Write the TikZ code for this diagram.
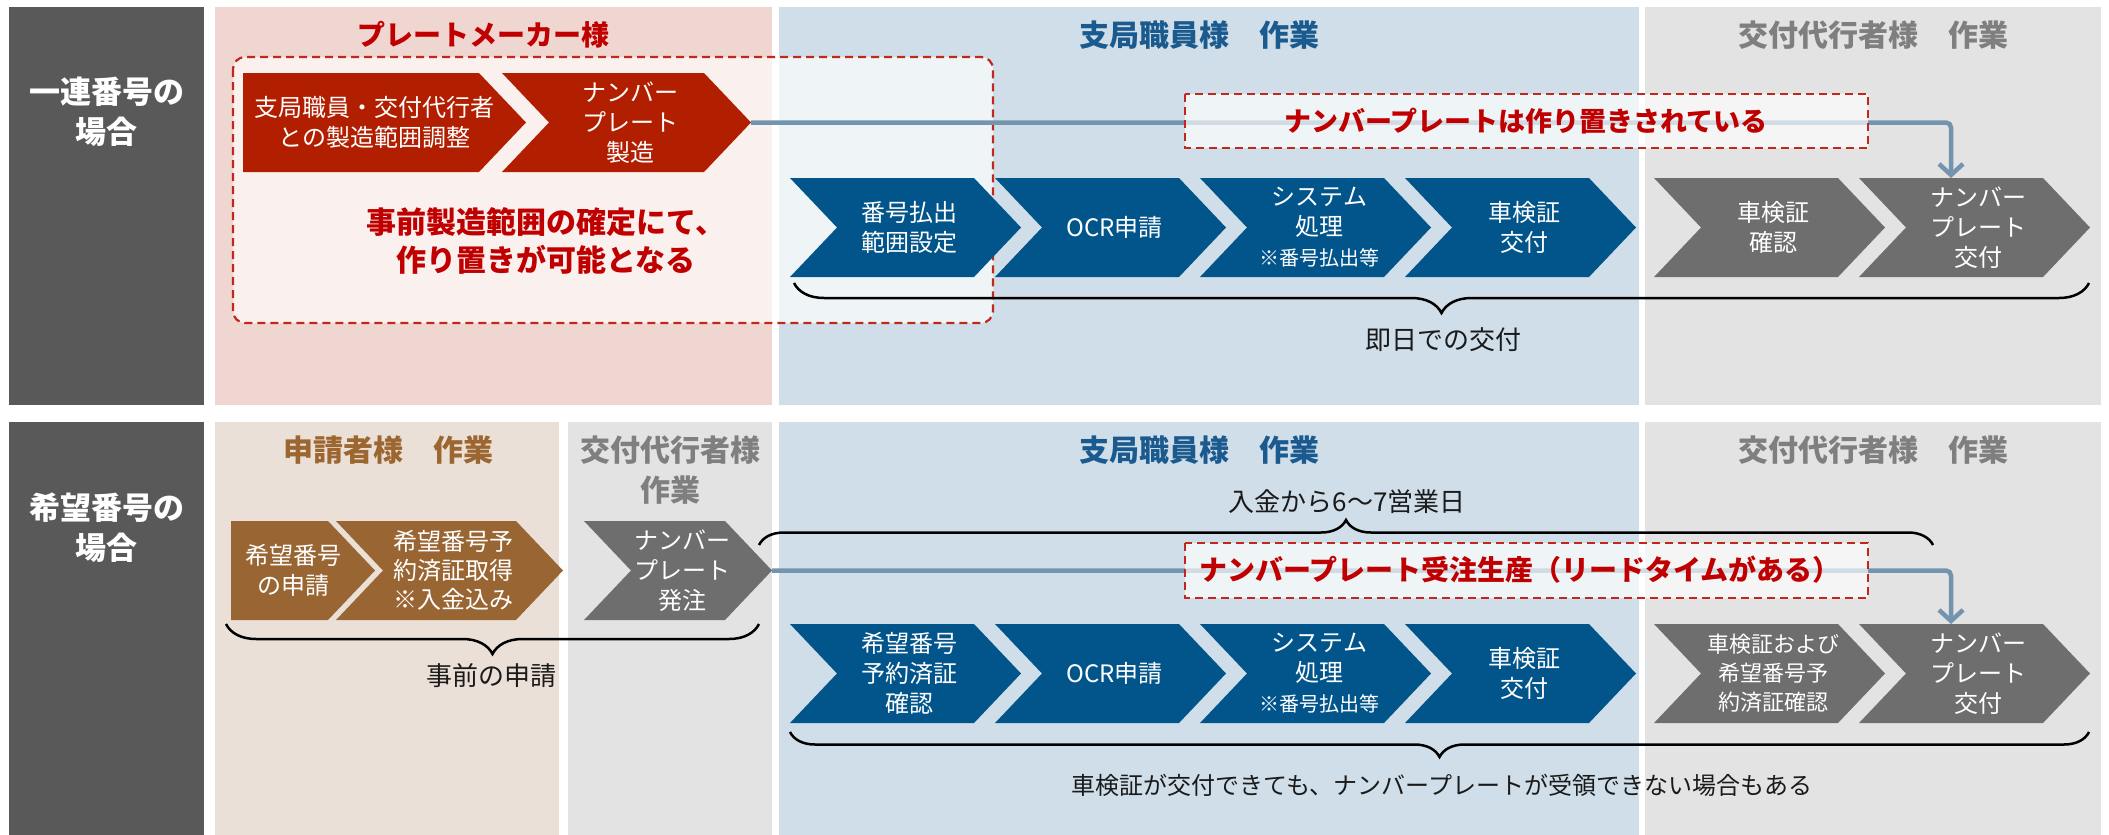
\documentclass[tikz,border=0pt]{standalone}
\usepackage{fontspec}
\newfontfamily\jp{Noto Sans CJK JP}
\usetikzlibrary{arrows.meta,decorations.pathreplacing}
\definecolor{darklbl}{HTML}{595959}
\definecolor{pinkbg}{HTML}{F0D6D0}
\definecolor{bluebg}{HTML}{CFDEE8}
\definecolor{graybg}{HTML}{E3E3E3}
\definecolor{brownbg}{HTML}{EBE0D7}
\definecolor{redch}{HTML}{B21F00}
\definecolor{bluech}{HTML}{02558B}
\definecolor{graych}{HTML}{6E6E6E}
\definecolor{brownch}{HTML}{996633}
\definecolor{redtxt}{HTML}{C00000}
\definecolor{bluehd}{HTML}{1A5A8E}
\definecolor{grayhd}{HTML}{7F7F7F}
\definecolor{brownhd}{HTML}{9C6630}
\definecolor{steel}{HTML}{7394AF}
\definecolor{dashred}{HTML}{C0281B}
\definecolor{txtblack}{HTML}{1A1A1A}
% notched chevron: left x, top y, total width, colour, name
\newcommand{\chevN}[5]{%
  \fill[#4] (#1,#2) -- ({#1+#3-47},#2) -- ({#1+#3},{#2+49.5}) -- ({#1+#3-47},{#2+99}) -- (#1,{#2+99}) -- ({#1+47},{#2+49.5}) -- cycle;
  \coordinate (#5) at ({#1+#3/2+4},{#2+49.5});
  \coordinate (#5-tip) at ({#1+#3},{#2+49.5});
  \coordinate (#5-top) at ({#1+92},#2);
}
% flat-left chevron
\newcommand{\chevF}[5]{%
  \fill[#4] (#1,#2) -- ({#1+#3-47},#2) -- ({#1+#3},{#2+49.5}) -- ({#1+#3-47},{#2+99}) -- (#1,{#2+99}) -- cycle;
  \coordinate (#5) at ({#1+#3/2-10},{#2+49.5});
  \coordinate (#5-tip) at ({#1+#3},{#2+49.5});
}
\begin{document}
\begin{tikzpicture}[x=1pt,y=-1pt,
  chtext/.style={font=\jp\fontsize{24}{30}\selectfont, text=white, align=center, inner sep=0pt},
  hdr/.style={font=\jp\bfseries\fontsize{30}{40}\selectfont, align=center, inner sep=0pt},
  sidelbl/.style={font=\jp\bfseries\fontsize{31}{40}\selectfont, text=white, align=center, inner sep=0pt},
  note/.style={font=\jp\fontsize{26}{32}\selectfont, text=txtblack, inner sep=0pt},
  redbold/.style={font=\jp\bfseries\fontsize{27}{36}\selectfont, text=redtxt, inner sep=0pt},
  dashbox/.style={draw=dashred, line width=2.2pt, dash pattern=on 8pt off 5pt, fill=white, fill opacity=0.67},
  flow/.style={draw=steel, line width=4.5pt, rounded corners=5pt, -{Straight Barb[length=11pt,width=24pt]}},
  bracestyle/.style={draw=black, line width=2.5pt, decorate}
]
\useasboundingbox (0,0) rectangle (2109,835);
% ---------- panels ----------
\fill[darklbl] (9,7) rectangle (204,405);
\fill[pinkbg] (215,7) rectangle (772,405);
\fill[bluebg] (779,7) rectangle (1639,405);
\fill[graybg] (1645,7) rectangle (2101,405);
\fill[darklbl] (9,422) rectangle (204,835);
\fill[brownbg] (215,422) rectangle (559,835);
\fill[graybg] (568,422) rectangle (772,835);
\fill[bluebg] (779,422) rectangle (1639,835);
\fill[graybg] (1645,422) rectangle (2101,835);
% ---------- side labels ----------
\node[sidelbl] (lab1) at (107,112) {一連番号の\\場合};
\node[sidelbl] (lab2) at (107,528) {希望番号の\\場合};
% ---------- headers ----------
\node[hdr, text=redtxt, font=\jp\bfseries\fontsize{28}{36}\selectfont] (h11) at (483,35) {プレートメーカー様};
\node[hdr, text=bluehd] (h12) at (1199,35) {支局職員様　作業};
\node[hdr, text=grayhd] (h13) at (1873,35) {交付代行者様　作業};
\node[hdr, text=brownhd] (h21) at (388,450) {申請者様　作業};
\node[hdr, text=grayhd] (h22) at (670,470) {交付代行者様\\作業};
\node[hdr, text=bluehd] (h23) at (1199,450) {支局職員様　作業};
\node[hdr, text=grayhd] (h24) at (1873,450) {交付代行者様　作業};
% ---------- big dashed box row 1 ----------
\draw[dashbox, rounded corners=12pt] (233,57) rectangle (993,323);
% ---------- row 1 chevrons ----------
\chevF{243}{73}{283}{redch}{rc1}
\chevN{502}{73}{249}{redch}{rc2}
\chevN{790}{178}{231}{bluech}{b11}
\chevN{995}{178}{231}{bluech}{b12}
\chevN{1200}{178}{231}{bluech}{b13}
\chevN{1405}{178}{231}{bluech}{b14}
\chevN{1654}{178}{231}{graych}{g11}
\chevN{1859}{178}{231}{graych}{g12}
\node[chtext] (trc1) at (rc1) {支局職員・交付代行者\\との製造範囲調整};
\node[chtext] (trc2) at (rc2) {ナンバー\\プレート\\製造};
\node[chtext] (tb11) at (b11) {番号払出\\範囲設定};
\node[chtext] (tb12) at (b12) {OCR申請};
\node[chtext] (tb13) at (b13) {システム\\処理\\{\fontsize{20}{25}\selectfont ※番号払出等}};
\node[chtext] (tb14) at (b14) {車検証\\交付};
\node[chtext] (tg11) at (g11) {車検証\\確認};
\node[chtext] (tg12) at (g12) {ナンバー\\プレート\\交付};
\node[redbold, font=\jp\bfseries\fontsize{30}{38}\selectfont, align=center] (pre) at (546,241) {事前製造範囲の確定にて、\\作り置きが可能となる};
% flow row 1
\draw[flow] (rc2-tip) -| (g12-top);
\draw[dashbox] (1185,94) rectangle (1868,148);
\node[redbold] (stock) at (1526,121) {ナンバープレートは作り置きされている};
% brace row 1
\coordinate (br1a) at (794,283);
\coordinate (br1b) at (2089,283);
\draw[bracestyle, decoration={brace, amplitude=30pt, mirror}] (br1a) -- (br1b);
\node[note] (sameday) at (1443,340) {即日での交付};
% ---------- row 2 chevrons ----------
\chevF{231}{521}{144}{brownch}{bw1}
\chevN{336}{521}{227}{brownch}{bw2}
\chevN{584}{521}{188}{graych}{gp}
\chevN{790}{624}{231}{bluech}{b21}
\chevN{995}{624}{231}{bluech}{b22}
\chevN{1200}{624}{231}{bluech}{b23}
\chevN{1405}{624}{231}{bluech}{b24}
\chevN{1654}{624}{231}{graych}{g21}
\chevN{1859}{624}{231}{graych}{g22}
\node[chtext] (tbw1) at (bw1) {希望番号\\の申請};
\node[chtext, font=\jp\fontsize{24}{29}\selectfont] (tbw2) at (bw2) {希望番号予\\約済証取得\\※入金込み};
\node[chtext] (tgp) at (gp) {ナンバー\\プレート\\発注};
\node[chtext] (tb21) at (b21) {希望番号\\予約済証\\確認};
\node[chtext] (tb22) at (b22) {OCR申請};
\node[chtext] (tb23) at (b23) {システム\\処理\\{\fontsize{20}{25}\selectfont ※番号払出等}};
\node[chtext] (tb24) at (b24) {車検証\\交付};
\node[chtext, font=\jp\fontsize{22}{29}\selectfont] (tg21) at (g21) {車検証および\\希望番号予\\約済証確認};
\node[chtext] (tg22) at (g22) {ナンバー\\プレート\\交付};
% flow row 2
\draw[flow] (gp-tip) -| (g22-top);
\draw[dashbox] (1185,543) rectangle (1868,598);
\node[redbold, font=\jp\bfseries\fontsize{28}{36}\selectfont] (order) at (1520,570) {ナンバープレート受注生産（リードタイムがある）};
% braces row 2
\coordinate (br2a) at (226,624);
\coordinate (br2b) at (759,624);
\draw[bracestyle, decoration={brace, amplitude=30pt, mirror}] (br2a) -- (br2b);
\node[note] (advance) at (491,676) {事前の申請};
\coordinate (br3a) at (759,545);
\coordinate (br3b) at (1933,545);
\draw[bracestyle, decoration={brace, amplitude=25pt}] (br3a) -- (br3b);
\node[note] (days) at (1347,502) {入金から6〜7営業日};
\coordinate (br4a) at (790,732);
\coordinate (br4b) at (2089,732);
\draw[bracestyle, decoration={brace, amplitude=25pt, mirror}] (br4a) -- (br4b);
\node[note, font=\jp\fontsize{24}{30}\selectfont] (maybe) at (1442,785) {車検証が交付できても、ナンバープレートが受領できない場合もある};
\end{tikzpicture}
\end{document}
